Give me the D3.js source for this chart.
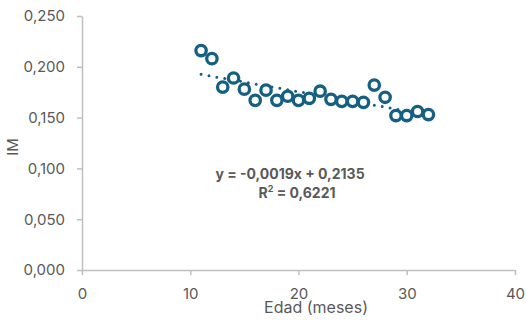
<!DOCTYPE html>
<html lang="es">
  <head>
    <meta charset="utf-8">
    <title>IM vs Edad</title>
    <script src="https://d3js.org/d3.v7.min.js"></script>
    <style>
      body { margin: 0; background: white; overflow: hidden; }
      text { font-family: Inter, "Liberation Sans", sans-serif; fill: #595959; }
    </style>
  </head>
  <body>
    <script>
      // data
      const edad = [11, 12, 13, 14, 15, 16, 17, 18, 19, 20, 21, 22, 23, 24, 25, 26, 27, 28, 29, 30, 31, 32];
      const im = [0.216, 0.208, 0.180, 0.189, 0.178, 0.167, 0.177, 0.167, 0.171, 0.167, 0.169, 0.176,
                  0.168, 0.166, 0.166, 0.165, 0.182, 0.170, 0.152, 0.152, 0.156, 0.153];
      const xTicks = [0, 10, 20, 30, 40];
      const yTicks = [0, 0.05, 0.1, 0.15, 0.2, 0.25];
      const slope = -0.0019;
      const intercept = 0.2135;
      const eqLabel = "y = -0,0019x + 0,2135";
      const r2Label = "0,6221";

      const w = 526;
      const h = 322;
      const margin = {top: 16, right: 11, bottom: 52, left: 82};
      const innerWidth = w - margin.left - margin.right;
      const innerHeight = h - margin.top - margin.bottom;

      const xScale = d3.scaleLinear().domain([0, 40]).range([0, innerWidth]);
      const yScale = d3.scaleLinear().domain([0, 0.25]).range([innerHeight, 0]);

      const fmt = d => d3.format(".3f")(d).replace(".", ",");

      const svg = d3.select("body").append("svg")
                    .attr("width", w)
                    .attr("height", h)
                    .style("display", "block");

      const g = svg.append("g")
                   .attr("transform", `translate(${margin.left}, ${margin.top})`);

      // axes
      const xAxis = d3.axisBottom(xScale).tickValues(xTicks).tickSize(5).tickSizeOuter(0).tickPadding(13);
      const yAxis = d3.axisLeft(yScale).tickValues(yTicks).tickFormat(fmt).tickSize(5).tickSizeOuter(0).tickPadding(12);

      const gx = g.append("g").attr("transform", `translate(0, ${innerHeight})`).call(xAxis);
      const gy = g.append("g").call(yAxis);

      [gx, gy].forEach(a => {
        a.select(".domain").attr("stroke", "#bfbfbf").attr("stroke-width", 1.5);
        a.selectAll(".tick line").attr("stroke", "#bfbfbf").attr("stroke-width", 1.5);
        a.selectAll(".tick text").attr("fill", "#595959").style("font-size", "15px")
         .style("font-family", "Inter, 'Liberation Sans', sans-serif");
      });

      // trend line
      const xs = [d3.min(edad), d3.max(edad)];
      g.append("line")
       .attr("x1", xScale(xs[0])).attr("y1", yScale(slope * xs[0] + intercept))
       .attr("x2", xScale(xs[1])).attr("y2", yScale(slope * xs[1] + intercept))
       .attr("stroke", "#156082")
       .attr("stroke-width", 3)
       .attr("stroke-linecap", "round")
       .attr("stroke-dasharray", "0 8");

      // markers
      g.selectAll("circle")
       .data(edad.map((x, i) => ({x: x, y: im[i]})))
       .enter().append("circle")
       .attr("cx", d => xScale(d.x))
       .attr("cy", d => yScale(d.y))
       .attr("r", 5.2)
       .attr("fill", "white")
       .attr("stroke", "#156082")
       .attr("stroke-width", 3.3);

      // equation
      svg.append("text")
         .attr("x", 290).attr("y", 179)
         .attr("text-anchor", "middle")
         .style("font-size", "14px").style("font-weight", "bold")
         .text(eqLabel);

      const r2 = svg.append("text")
         .attr("x", 297).attr("y", 198)
         .attr("text-anchor", "middle")
         .style("font-size", "14px").style("font-weight", "bold");
      r2.append("tspan").text("R");
      r2.append("tspan").attr("dy", -6).style("font-size", "9px").text("2");
      r2.append("tspan").attr("dy", 6).text(" = " + r2Label);

      // axis titles
      svg.append("text")
         .attr("x", 316).attr("y", 313)
         .attr("text-anchor", "middle")
         .style("font-size", "16px")
         .text("Edad (meses)");

      svg.append("text")
         .attr("transform", "translate(18, 147) rotate(-90)")
         .attr("text-anchor", "middle")
         .style("font-size", "15px")
         .text("IM");
    </script>
  </body>
</html>
